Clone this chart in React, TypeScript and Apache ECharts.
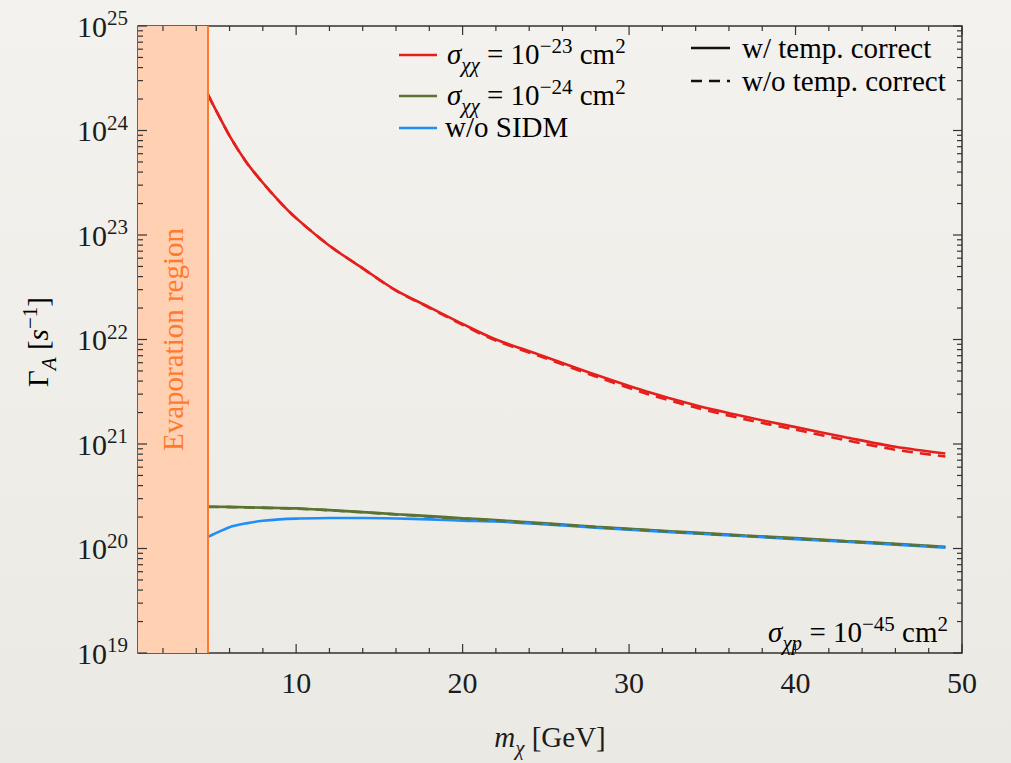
import React, { useEffect, useRef } from "react";
import * as echarts from "echarts";

// Dark-matter mass grid [GeV] shared by all curves
const massGrid = [4.7, 5, 6, 7, 8, 9, 10, 12, 14, 16, 18, 20, 22, 25, 28, 31, 34, 37, 40, 43, 46, 49];

// Annihilation rate Γ_A [s^-1], σχχ = 1e-23 cm^2
const redWithTemp = [2.22e24, 1.78e24, 8.9e23, 5.0e23, 3.16e23, 2.09e23, 1.45e23, 7.9e22, 4.8e22, 2.95e22, 2.04e22, 1.41e22, 1.0e22, 6.8e21, 4.6e21, 3.2e21, 2.35e21, 1.82e21, 1.45e21, 1.16e21, 9.4e20, 8.1e20];
const redWithoutTemp = [2.22e24, 1.78e24, 8.9e23, 5.0e23, 3.16e23, 2.09e23, 1.45e23, 7.9e22, 4.8e22, 2.93e22, 2.01e22, 1.38e22, 9.75e21, 6.6e21, 4.42e21, 3.05e21, 2.23e21, 1.72e21, 1.37e21, 1.09e21, 8.8e20, 7.6e20];

// σχχ = 1e-24 cm^2
const greenWithTemp = [2.51e20, 2.51e20, 2.5e20, 2.48e20, 2.46e20, 2.44e20, 2.42e20, 2.33e20, 2.23e20, 2.13e20, 2.04e20, 1.95e20, 1.87e20, 1.74e20, 1.61e20, 1.51e20, 1.42e20, 1.33e20, 1.26e20, 1.18e20, 1.11e20, 1.04e20];
const greenWithoutTemp = [2.5e20, 2.5e20, 2.49e20, 2.47e20, 2.45e20, 2.43e20, 2.41e20, 2.32e20, 2.22e20, 2.12e20, 2.02e20, 1.93e20, 1.85e20, 1.72e20, 1.6e20, 1.5e20, 1.4e20, 1.32e20, 1.24e20, 1.17e20, 1.1e20, 1.03e20];

// No self-interaction
const blueNoSIDM = [1.29e20, 1.36e20, 1.6e20, 1.74e20, 1.84e20, 1.9e20, 1.93e20, 1.96e20, 1.96e20, 1.94e20, 1.9e20, 1.85e20, 1.81e20, 1.7e20, 1.58e20, 1.48e20, 1.39e20, 1.31e20, 1.23e20, 1.16e20, 1.09e20, 1.02e20];

// Axis ranges and ticks
const xMin = 0.5;
const xMax = 50;
const yMin = 1e19;
const yMax = 1e25;
const evaporationMass = 4.7;
const xMajorTicks = [10, 20, 30, 40, 50];
const xMinorTicks = [2, 4, 6, 8, 12, 14, 16, 18, 22, 24, 26, 28, 32, 34, 36, 38, 42, 44, 46, 48];
const yDecades = [19, 20, 21, 22, 23, 24, 25];
const yMinorDigits = [2, 3, 4, 5, 6, 7, 8, 9];

const FONT = "Liberation Serif";
const INK = "#1c1c1c";
const RED = "#e5201c";
const GREEN = "#5a7232";
const BLUE = "#1f8ff7";
const ORANGE = "#ff7a2c";

const richText = {
  n: { fontSize: 29, fontFamily: FONT, color: INK },
  i: { fontSize: 29, fontFamily: FONT, color: INK, fontStyle: "italic" },
  sub: { fontSize: 21, fontFamily: FONT, color: INK, fontStyle: "italic", padding: [22, 0, 0, 0] },
  sup: { fontSize: 21, fontFamily: FONT, color: INK, padding: [0, 0, 16, 0] },
};

const pairs = (ys: number[]) => massGrid.map((m, i) => [m, ys[i]]);

const yMajorValues = yDecades.map((e) => Math.pow(10, e));
const yMinorValues: number[] = [];
yDecades.slice(0, -1).forEach((e) => yMinorDigits.forEach((d) => yMinorValues.push(d * Math.pow(10, e))));

function tickSeries(name: string, data: number[][], vertical: boolean, len: number) {
  return {
    type: "custom",
    name,
    silent: true,
    z: 5,
    data,
    renderItem: (params: any, api: any) => {
      const cs = params.coordSys;
      const p = api.coord([api.value(0), api.value(1)]);
      const style = { stroke: "#333", lineWidth: 1.2 };
      if (vertical) {
        const x = p[0];
        return {
          type: "group",
          children: [
            { type: "line", shape: { x1: x, y1: cs.y + cs.height, x2: x, y2: cs.y + cs.height - len }, style },
            { type: "line", shape: { x1: x, y1: cs.y, x2: x, y2: cs.y + len }, style },
          ],
        };
      }
      const y = p[1];
      return {
        type: "group",
        children: [
          { type: "line", shape: { x1: cs.x, y1: y, x2: cs.x + len, y2: y }, style },
          { type: "line", shape: { x1: cs.x + cs.width, y1: y, x2: cs.x + cs.width - len, y2: y }, style },
        ],
      };
    },
  };
}

function lineSeries(name: string, ys: number[], color: string, dashed: boolean, extra: any = {}) {
  return {
    type: "line",
    name,
    data: pairs(ys),
    showSymbol: false,
    smooth: 0.3,
    z: 3,
    lineStyle: { color, width: 2.6, type: dashed ? [11, 7] : "solid" },
    ...extra,
  };
}

// Plain rich-text label in the serif face
const txt = (s: string) => `{n|${s}}`;

const option: any = {
  animation: false,
  backgroundColor: "transparent",
  textStyle: { fontFamily: FONT },
  grid: {
    left: 138,
    top: 26,
    width: 824,
    height: 634,
    show: true,
    borderColor: "#333",
    borderWidth: 1.5,
    backgroundColor: "transparent",
  },
  xAxis: {
    type: "value",
    min: xMin,
    max: xMax,
    axisLine: { show: false },
    axisTick: { show: false },
    splitLine: { show: false },
    axisLabel: {
      customValues: xMajorTicks,
      fontSize: 30,
      fontFamily: FONT,
      color: INK,
      margin: 14,
    },
    name: "{i|m}{sub|χ}{n| [GeV]}",
    nameLocation: "middle",
    nameGap: 62,
    nameTextStyle: { rich: richText },
  },
  yAxis: {
    type: "log",
    logBase: 10,
    min: yMin,
    max: yMax,
    axisLine: { show: false },
    axisTick: { show: false },
    splitLine: { show: false },
    minorTick: { show: false },
    axisLabel: {
      margin: 10,
      formatter: (v: number) => `{b|10}{s|${Math.round(Math.log10(v))}}`,
      rich: {
        b: { fontSize: 30, fontFamily: FONT, color: INK },
        s: { fontSize: 21, fontFamily: FONT, color: INK, padding: [0, 0, 16, 0] },
      },
    },
  },
  series: [
    lineSeries("σχχ = 1e-23 (w/ temp.)", redWithTemp, RED, false, {
      markArea: {
        silent: true,
        itemStyle: { color: "#ffd0b2" },
        label: {
          show: true,
          position: "inside",
          rotate: 90,
          formatter: "Evaporation region",
          color: ORANGE,
          fontSize: 29,
          fontFamily: FONT,
        },
        data: [[{ xAxis: xMin }, { xAxis: evaporationMass }]],
      },
      markLine: {
        silent: true,
        symbol: "none",
        label: { show: false },
        lineStyle: { color: ORANGE, width: 2, type: "solid" },
        data: [{ xAxis: evaporationMass }],
      },
    }),
    lineSeries("σχχ = 1e-23 (w/o temp.)", redWithoutTemp, RED, true),
    lineSeries("σχχ = 1e-24 (w/ temp.)", greenWithTemp, GREEN, false),
    lineSeries("w/o SIDM", blueNoSIDM, BLUE, false),
    lineSeries("σχχ = 1e-24 (w/o temp.)", greenWithoutTemp, GREEN, true),
    tickSeries("xMajor", xMajorTicks.map((m) => [m, yMin]), true, 9),
    tickSeries("xMinor", xMinorTicks.map((m) => [m, yMin]), true, 5),
    tickSeries("yMajor", yMajorValues.map((v) => [xMin, v]), false, 9),
    tickSeries("yMinor", yMinorValues.map((v) => [xMin, v]), false, 5),
  ],
  graphic: [
    // legend: colours
    { type: "line", shape: { x1: 399, y1: 55, x2: 437, y2: 55 }, style: { stroke: RED, lineWidth: 2.6 } },
    {
      type: "text",
      x: 447,
      y: 54,
      style: { text: "{i|σ}{sub|χχ}{n| = 10}{sup|−23}{n| cm}{sup|2}", rich: richText, verticalAlign: "middle" },
    },
    { type: "line", shape: { x1: 399, y1: 96, x2: 437, y2: 96 }, style: { stroke: GREEN, lineWidth: 2.6 } },
    {
      type: "text",
      x: 447,
      y: 95,
      style: { text: "{i|σ}{sub|χχ}{n| = 10}{sup|−24}{n| cm}{sup|2}", rich: richText, verticalAlign: "middle" },
    },
    { type: "line", shape: { x1: 399, y1: 128, x2: 437, y2: 128 }, style: { stroke: BLUE, lineWidth: 2.6 } },
    {
      type: "text",
      x: 445,
      y: 127,
      style: { text: txt("w/o SIDM"), rich: richText, verticalAlign: "middle" },
    },
    // legend: line styles
    { type: "line", shape: { x1: 691, y1: 48, x2: 730, y2: 48 }, style: { stroke: "#111", lineWidth: 2.6 } },
    {
      type: "text",
      x: 742,
      y: 48,
      style: { text: txt("w/ temp. correct"), rich: richText, verticalAlign: "middle" },
    },
    {
      type: "line",
      shape: { x1: 691, y1: 81, x2: 730, y2: 81 },
      style: { stroke: "#111", lineWidth: 2.6, lineDash: [11, 7] },
    },
    {
      type: "text",
      x: 742,
      y: 81,
      style: { text: txt("w/o temp. correct"), rich: richText, verticalAlign: "middle" },
    },
    // cross-section annotation
    {
      type: "text",
      x: 948,
      y: 632,
      style: {
        text: "{i|σ}{sub|χp}{n| = 10}{sup|−45}{n| cm}{sup|2}",
        rich: richText,
        align: "right",
        verticalAlign: "middle",
      },
    },
    // y-axis title
    {
      type: "text",
      x: 38,
      y: 342,
      rotation: Math.PI / 2,
      style: {
        text: "{n|Γ}{sub|A}{n| [}{i|s}{sup|−1}{n|]}",
        rich: richText,
        align: "center",
        verticalAlign: "middle",
      },
    },
  ],
};

export default function App() {
  const ref = useRef<HTMLDivElement>(null);
  useEffect(() => {
    const chart = echarts.init(ref.current!, null, { renderer: "svg" });
    chart.setOption(option);
    return () => chart.dispose();
  }, []);
  return (
    <div
      style={{
        position: "fixed",
        left: 0,
        top: 0,
        width: 1011,
        height: 763,
        background: "linear-gradient(180deg, #f4f2ee 0%, #efede8 60%, #ebe9e4 100%)",
      }}
    >
      <div ref={ref} style={{ width: 1011, height: 763 }} />
    </div>
  );
}
